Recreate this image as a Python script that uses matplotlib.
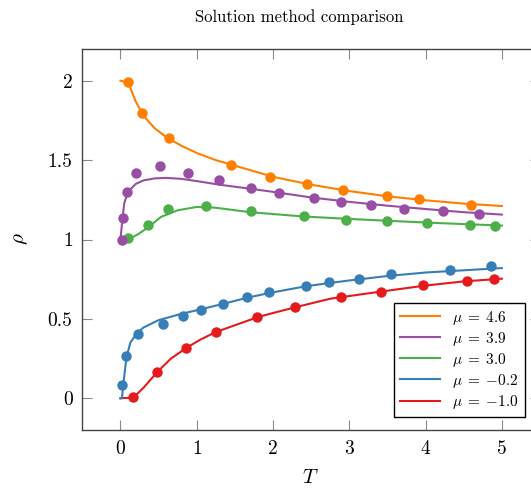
import matplotlib
matplotlib.use("Agg")
import matplotlib.pyplot as plt
from matplotlib.lines import Line2D

plt.rcParams['font.family'] = 'cmr10'
plt.rcParams['mathtext.fontset'] = 'cm'
plt.rcParams['axes.formatter.use_mathtext'] = True

# curves
t_line_46 = [0.0, 0.1, 0.2, 0.3, 0.45, 0.6, 0.8, 1.0, 1.25, 1.5, 2.0, 2.5, 3.0, 3.5, 4.0, 4.5, 5.0]
rho_line_46 = [2.0, 1.99, 1.87, 1.78, 1.70, 1.645, 1.59, 1.545, 1.50, 1.465, 1.395, 1.345, 1.305, 1.272, 1.247, 1.226, 1.211]
t_line_39 = [0.0, 0.02, 0.05, 0.1, 0.2, 0.3, 0.45, 0.6, 0.8, 1.0, 1.3, 1.7, 2.0, 2.5, 3.0, 3.5, 4.0, 4.5, 5.0]
rho_line_39 = [1.0, 1.10, 1.23, 1.30, 1.35, 1.372, 1.385, 1.388, 1.382, 1.368, 1.345, 1.32, 1.30, 1.265, 1.237, 1.213, 1.192, 1.172, 1.157]
t_line_30 = [0.0, 0.1, 0.23, 0.37, 0.53, 0.75, 1.0, 1.25, 1.7, 2.4, 2.9, 3.5, 4.0, 4.5, 5.0]
rho_line_30 = [1.0, 1.0, 1.033, 1.079, 1.142, 1.184, 1.205, 1.20, 1.172, 1.145, 1.132, 1.118, 1.107, 1.097, 1.088]
t_line_m02 = [0.0, 0.02, 0.04, 0.08, 0.13, 0.2, 0.3, 0.5, 0.8, 1.05, 1.35, 1.66, 1.95, 2.45, 3.0, 3.5, 4.0, 4.5, 5.0]
rho_line_m02 = [0.0, 0.0, 0.10, 0.26, 0.35, 0.40, 0.445, 0.492, 0.532, 0.560, 0.595, 0.633, 0.663, 0.707, 0.742, 0.77, 0.792, 0.806, 0.82]
t_line_m10 = [0.0, 0.17, 0.31, 0.48, 0.66, 0.86, 1.05, 1.25, 1.53, 1.8, 2.0, 2.3, 2.75, 3.4, 4.0, 4.5, 5.0]
rho_line_m10 = [0.0, 0.004, 0.07, 0.164, 0.249, 0.316, 0.370, 0.417, 0.465, 0.511, 0.537, 0.574, 0.627, 0.671, 0.71, 0.736, 0.753]

# dots
t_dots_46 = [0.104, 0.283, 0.632, 1.454, 1.958, 2.441, 2.924, 3.499, 3.916, 4.591]
rho_dots_46 = [1.994, 1.798, 1.637, 1.468, 1.394, 1.348, 1.310, 1.273, 1.252, 1.220]
t_dots_39 = [0.018, 0.039, 0.087, 0.205, 0.522, 0.884, 1.288, 1.710, 2.085, 2.533, 2.894, 3.290, 3.717, 4.222, 4.696]
rho_dots_39 = [0.999, 1.136, 1.300, 1.422, 1.462, 1.422, 1.372, 1.327, 1.293, 1.260, 1.237, 1.218, 1.195, 1.178, 1.163]
t_dots_30 = [0.096, 0.366, 0.627, 1.128, 1.706, 2.402, 2.955, 3.499, 4.021, 4.582, 4.914]
rho_dots_30 = [1.012, 1.090, 1.195, 1.209, 1.178, 1.146, 1.125, 1.115, 1.104, 1.094, 1.083]
t_dots_m02 = [0.022, 0.074, 0.227, 0.553, 0.814, 1.062, 1.349, 1.663, 1.946, 2.428, 2.738, 3.133, 3.543, 4.326, 4.852]
rho_dots_m02 = [0.086, 0.267, 0.406, 0.465, 0.517, 0.558, 0.595, 0.637, 0.669, 0.705, 0.730, 0.753, 0.780, 0.806, 0.831]
t_dots_m10 = [0.170, 0.479, 0.858, 1.249, 1.793, 2.285, 2.894, 3.412, 3.969, 4.543, 4.896]
rho_dots_m10 = [0.006, 0.164, 0.316, 0.417, 0.511, 0.574, 0.637, 0.671, 0.711, 0.738, 0.753]

labels = [r'$\mu\;=\;4.6$', r'$\mu\;=\;3.9$', r'$\mu\;=\;3.0$', r'$\mu\;=\;{-0.2}$', r'$\mu\;=\;{-1.0}$']
colors = ['#ff7f00', '#984ea3', '#4daf4a', '#377eb8', '#e41a1c']
xticks = [0, 1, 2, 3, 4, 5]
yticks = [0, 0.5, 1, 1.5, 2]
ytick_labels = ['0', '0.5', '1', '1.5', '2']

W, H = 531, 492
fig = plt.figure(figsize=(W / 100, H / 100), dpi=100)
# axes runs past the right edge of the picture, like the reference
ax = fig.add_axes([82.3 / W, 1 - 430 / H, (540 - 82.3) / W, (430 - 49) / H])

lines = [(t_line_46, rho_line_46), (t_line_39, rho_line_39), (t_line_30, rho_line_30),
         (t_line_m02, rho_line_m02), (t_line_m10, rho_line_m10)]
dots = [(t_dots_46, rho_dots_46), (t_dots_39, rho_dots_39), (t_dots_30, rho_dots_30),
        (t_dots_m02, rho_dots_m02), (t_dots_m10, rho_dots_m10)]

for i in range(4, -1, -1):
    z = 2 + (4 - i) * 2
    ax.plot(lines[i][0], lines[i][1], color=colors[i], lw=1.5, zorder=z)
    ax.plot(dots[i][0], dots[i][1], 'o', color=colors[i], ms=7.5, mec='none', zorder=z + 1)

ax.set_xlim(-0.5, 5.5)
ax.set_ylim(-0.2, 2.2)
ax.set_xticks(xticks)
ax.set_xticklabels([str(v) for v in xticks])
ax.set_yticks(yticks)
ax.set_yticklabels(ytick_labels)
ax.tick_params(direction='in', length=7, width=0.8, color='#888888', top=True, right=True,
               labelsize=14, pad=7)
for s in ax.spines.values():
    s.set_color('#444444')
    s.set_linewidth(1.0)

fig.text(21 / W, 1 - 239 / H, r'$\rho$', fontsize=15, rotation=90, ha='center', va='center')
fig.text(310 / W, 1 - 478 / H, r'$T$', fontsize=15, ha='center', va='center')
fig.text(299 / W, 1 - 17 / H, 'Solution method comparison', fontsize=12, ha='center', va='center')

handles = [Line2D([], [], color=c, lw=1.5) for c in colors]
leg = fig.legend(handles, labels, loc='lower left', bbox_to_anchor=(394 / W, 1 - 417 / H),
                 fontsize=11, frameon=True, fancybox=False, framealpha=1, edgecolor='black',
                 handlelength=2.6, labelspacing=0.2, borderpad=0.4, handletextpad=0.8,
                 borderaxespad=0)
leg.get_frame().set_linewidth(1.0)

fig.savefig('out.png', dpi=100)
